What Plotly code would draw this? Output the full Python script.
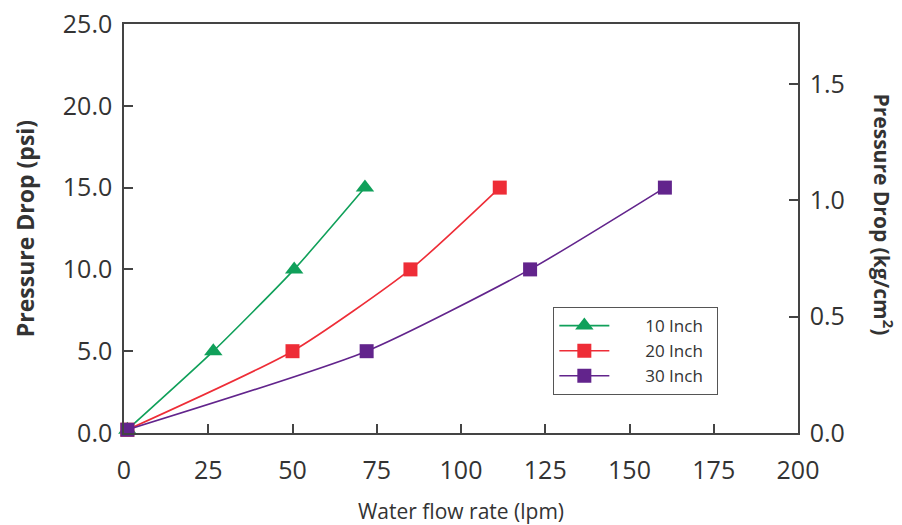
import plotly.graph_objects as go

# Data
flow_10 = [1, 26.5, 50.5, 71.5]
psi_10 = [0.2, 5, 10, 15]
flow_20 = [1, 50, 85, 111.5]
psi_20 = [0.2, 5, 10, 15]
flow_30 = [1, 72, 120.5, 160.5]
psi_30 = [0.2, 5, 10, 15]

x_ticks = [0, 25, 50, 75, 100, 125, 150, 175, 200]
y_ticks = [0, 5, 10, 15, 20, 25]
y2_ticks = [0.0, 0.5, 1.0, 1.5]
PSI_PER_KGCM2 = 14.2233

names = ["10 Inch", "20 Inch", "30 Inch"]
colors = ["#10A05A", "#EE2D37", "#62248C"]
symbols = ["triangle-up", "square", "square"]
sizes = [16, 14, 14]

FONT = "Open Sans"
AX = "#444444"
TXT = "#333333"

fig = go.Figure()
for fx, fy, nm, c, s, sz in zip([flow_10, flow_20, flow_30], [psi_10, psi_20, psi_30],
                                names, colors, symbols, sizes):
    fig.add_trace(go.Scatter(
        x=fx, y=fy, name="\u00a0\u00a0\u00a0\u00a0\u00a0\u00a0\u00a0" + nm + "\u00a0\u00a0",
        mode="lines+markers",
        line=dict(color=c, width=1.6, shape="spline", smoothing=0.6),
        marker=dict(symbol=s, size=sz, color=c),
        cliponaxis=False,
    ))

# dummy trace to activate secondary axis
fig.add_trace(go.Scatter(x=[None], y=[None], yaxis="y2", showlegend=False,
                         hoverinfo="skip"))

fig.update_layout(
    width=902, height=525,
    margin=dict(l=124, r=104, t=24, b=92, autoexpand=False),
    paper_bgcolor="white", plot_bgcolor="white",
    font=dict(family=FONT, color=TXT),
    showlegend=True,
    legend=dict(
        x=0.637, y=0.308, xanchor="left", yanchor="top",
        bordercolor="#555555", borderwidth=1, bgcolor="white",
        font=dict(size=17, family=FONT, color=TXT),
        itemwidth=50, tracegroupgap=0,
    ),
    xaxis=dict(
        range=[0, 200], tickvals=x_ticks, ticktext=[str(v) for v in x_ticks],
        showline=True, linecolor=AX, linewidth=1.5, mirror=True,
        ticks="inside", ticklen=9, tickcolor=AX, tickwidth=1.5,
        showgrid=False, zeroline=False, automargin=False,
        tickfont=dict(size=25, family=FONT, color=TXT), ticklabelstandoff=14,
        title=dict(text="Water flow rate (lpm)", font=dict(size=21, family=FONT, color=TXT),
                   standoff=26),
    ),
    yaxis=dict(
        range=[0, 25], tickvals=y_ticks, ticktext=[f"{v:.1f}" for v in y_ticks],
        showline=True, linecolor=AX, linewidth=1.5, mirror=True,
        ticks="inside", ticklen=9, tickcolor=AX, tickwidth=1.5,
        showgrid=False, zeroline=False, automargin=False,
        tickfont=dict(size=25, family=FONT, color=TXT), ticklabelstandoff=5,
        title=dict(text="<b>Pressure Drop (psi)</b>", font=dict(size=23, family=FONT, color=TXT),
                   standoff=22),
    ),
    yaxis2=dict(
        overlaying="y", side="right",
        range=[0, 25 / PSI_PER_KGCM2], tickvals=y2_ticks, ticktext=[f"{v:.1f}" for v in y2_ticks],
        showline=True, linecolor=AX, linewidth=1.5,
        ticks="inside", ticklen=9, tickcolor=AX, tickwidth=1.5,
        showgrid=False, zeroline=False, automargin=False,
        tickfont=dict(size=25, family=FONT, color=TXT), ticklabelstandoff=5,
    ),
    annotations=[dict(
        text="<b>Pressure Drop (kg/cm<sup>2</sup>)</b>",
        xref="paper", yref="paper", x=1.127, y=0.535,
        xanchor="center", yanchor="middle", textangle=90, showarrow=False,
        font=dict(size=21, family=FONT, color=TXT),
    )],
)

fig.write_html("out.html", config={"displayModeBar": False},
               post_script="document.body.style.margin='0px';")
